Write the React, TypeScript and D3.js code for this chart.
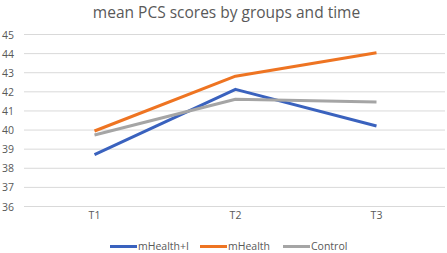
import React from "react";
import * as d3 from "d3";

const categories = ["T1", "T2", "T3"];
const seriesNames = ["mHealth+I", "mHealth", "Control"];
const mHealthI = [38.72, 42.13, 40.21];
const mHealth = [39.95, 42.82, 44.05];
const control = [39.74, 41.61, 41.47];
const yTicks = [36, 37, 38, 39, 40, 41, 42, 43, 44, 45];
const colors = ["#3A62BE", "#EE7422", "#A5A5A5"];

const W = 447;
const H = 253;

export default function App() {
  const x = d3.scaleBand<string>().domain(categories).range([24, 447]);
  const y = d3.scaleLinear().domain([36, 45]).range([206.5, 34.5]);
  const line = d3
    .line<number>()
    .x((_, i) => (x(categories[i]) as number) + x.bandwidth() / 2)
    .y((d) => y(d));
  const series = [mHealthI, mHealth, control];
  const legendX = [110, 200, 283];
  const font = "Open Sans, Noto Sans, sans-serif";
  return (
    <svg
      width={W}
      height={H}
      style={{ position: "absolute", left: 0, top: 0, background: "#fff" }}
      fontFamily={font}
    >
      <rect width={W} height={H} fill="#fff" />
      <text x={226.5} y={18} textAnchor="middle" fontSize={15.5} fill="#595959">
        mean PCS scores by groups and time
      </text>
      {yTicks.map((t) => (
        <g key={t}>
          <line x1={24} x2={445} y1={y(t)} y2={y(t)} stroke="#D9D9D9" strokeWidth={1} />
          <text x={14} y={y(t) + 4} textAnchor="end" fontSize={10.5} fill="#595959">
            {t}
          </text>
        </g>
      ))}
      {categories.map((c) => (
        <text
          key={c}
          x={(x(c) as number) + x.bandwidth() / 2}
          y={219}
          textAnchor="middle"
          fontSize={10.5}
          fill="#595959"
        >
          {c}
        </text>
      ))}
      {series.map((s, i) => (
        <path
          key={i}
          d={line(s) as string}
          fill="none"
          stroke={colors[i]}
          strokeWidth={3}
          strokeLinejoin="round"
        />
      ))}
      {seriesNames.map((n, i) => (
        <g key={n}>
          <line
            x1={legendX[i]}
            x2={legendX[i] + 27}
            y1={246.5}
            y2={246.5}
            stroke={colors[i]}
            strokeWidth={3}
          />
          <text x={legendX[i] + 28} y={250} fontSize={10.5} fill="#595959">
            {n}
          </text>
        </g>
      ))}
    </svg>
  );
}
